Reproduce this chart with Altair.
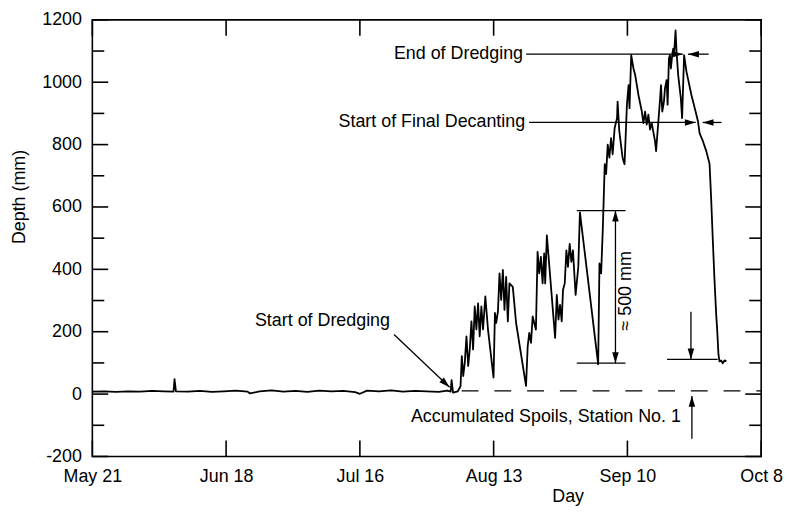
import altair as alt
import pandas as pd

# ---- main series: day offset from May 21, depth in mm ----
depth_day = [
    0, 2.5, 5, 7.5, 10, 12.5, 15, 17.0, 17.2, 17.5, 20, 22.5, 25, 27.5, 30,
    32.5, 33.0, 35, 37.5, 40, 42.5, 45, 47.5, 50, 52.5, 55, 56.0, 57.5, 60,
    62.5, 65, 67.5, 70, 72.5, 74.3, 75.0, 75.2, 75.5, 76.5,
    77.07, 77.34, 77.63, 77.96, 78.31, 78.67, 79.0, 79.35, 79.7, 80.04, 80.39,
    80.74, 81.08, 81.43, 81.78, 82.26, 82.82, 83.98, 84.27, 84.54, 84.9, 85.23,
    85.58, 85.93, 86.27, 86.62, 86.97, 87.31, 88.01, 88.7, 90.78, 91.13, 91.46,
    91.82, 92.17, 92.5, 92.85, 93.2, 93.54, 93.89, 94.25, 94.58, 94.79, 95.14,
    95.5, 96.87, 97.22, 97.57, 97.9, 98.25, 98.52, 98.88, 99.23, 99.56, 99.92,
    100.27, 100.6, 101.16, 101.72, 102.06, 105.88, 106.15, 106.5, 106.84,
    107.05, 107.25, 107.54, 107.88, 108.23, 108.58, 108.91, 109.33, 109.83,
    109.95, 110.3, 110.99, 111.4, 111.9, 112.24, 112.44, 112.8, 113.27, 113.63,
    114.31, 115.02, 115.35, 115.7, 116.04, 116.39, 116.74, 117.09, 117.78,
    118.0, 118.8, 119.03, 119.3, 119.65, 119.86, 120.21, 120.42, 120.69, 120.9,
    121.1, 121.38, 121.59, 121.8, 122.08, 122.29, 122.63, 123.18, 123.45,
    123.87, 124.36, 125.4, 126.44, 126.77, 127.12, 127.81, 128.51, 129.2,
    129.55, 129.88, 130.23, 130.59, 130.79, 131.06, 131.27, 131.62, 131.95,
    132.32, 132.73,
]
depth_mm = [
    8, 9, 7, 9, 8, 10, 9, 8, 48, 9, 8, 10, 7, 9, 11,
    8, 2, 9, 12, 8, 10, 7, 11, 9, 10, 6, 1, 11, 9,
    12, 8, 10, 9, 7, 11, 8, 45, 5, 9,
    25, 122, 58, 101, 185, 90, 143, 233, 143, 281, 207,
    291, 185, 281, 207, 313, 207, 53, 260, 228, 265, 387,
    302, 398, 270, 376, 233, 355, 344, 228, 26, 154, 196,
    164, 249, 228, 207, 456, 387, 440, 355, 451, 355, 509,
    440, 180, 318, 239, 286, 233, 334, 355, 461, 408, 482,
    424, 461, 318, 408, 583, 95, 419, 387, 525,
    631, 737, 705, 800, 758, 821, 769, 853, 885,
    938, 843, 758, 737, 928, 991, 917, 1087, 1044, 1023,
    959, 906, 869, 906, 864, 896, 848, 869, 811,
    779, 938, 991, 906, 938, 980, 1007, 928, 1076, 1087,
    1044, 1087, 1108, 1097, 1166, 1097, 1023, 949, 885,
    1087, 1034, 959, 896, 875, 836, 811, 779, 738,
    620, 493, 366, 254, 207, 127, 105, 108, 99,
    108, 105,
]

# ---- axes ----
x_tick_days = [0, 28, 56, 84, 112, 140]
x_tick_labels = ["May 21", "Jun 18", "Jul 16", "Aug 13", "Sep 10", "Oct 8"]
y_major = [-200, 0, 200, 400, 600, 800, 1000, 1200]
y_minor = [-100, 100, 300, 500, 700, 900, 1100]

# ---- annotations (data units) ----
arrow_x1 = [90.8, 129.0, 91.4, 131.7, 63.15, 109.5, 109.5, 125.3, 125.5]
arrow_y1 = [1090, 1090, 871, 871, 191, 343, 343, 264, -143]
arrow_x2 = [123.6, 124.7, 126.3, 127.75, 74.78, 109.5, 109.5, 125.3, 125.5]
arrow_y2 = [1090, 1090, 871, 871, 22, 588, 99, 111, -6]
arrow_angle = [0, 180, 0, 180, 43, 270, 90, 90, 270]

seg_x1 = [101.4, 101.4, 120.3]
seg_x2 = [111.6, 111.6, 130.9]
seg_y = [588, 99, 111]

dash_x1 = [77.3]
dash_x2 = [140]
dash_y = [10]

note_text = ["End of Dredging", "Start of Final Decanting", "Start of Dredging",
             "Accumulated Spoils, Station No. 1"]
note_x = [90.15, 90.6, 62.3, 123.2]
note_y = [1090, 871, 235, -73]

rot_text = ["\u2248 500 mm"]
rot_x = [111.8]
rot_y = [331]

FONT = "Liberation Sans"
W, H = 674, 440

xs = alt.Scale(domain=[0, 140], nice=False, zero=False)
ys = alt.Scale(domain=[-200, 1200], nice=False, zero=False)

label_expr = "[" + ",".join("'%s'" % s for s in x_tick_labels) + "][round(datum.value/28)]"

XAX = alt.Axis(values=x_tick_days, labelExpr=label_expr, ticks=False, tickSize=0,
               grid=False, domain=False, labelPadding=11, labelFontSize=18,
               labelFont=FONT, labelColor="black", titleFont=FONT, titleFontSize=18,
               titleFontWeight="normal", titleColor="black", titleX=479, titleY=31,
               labelFlush=False)
YAX = alt.Axis(values=y_major, labelExpr="'' + datum.value", ticks=False, tickSize=0,
               grid=False, domain=False,
               labelPadding=11, labelFontSize=18, labelFont=FONT, labelColor="black",
               titleFont=FONT, titleFontSize=18, titleFontWeight="normal",
               titleColor="black", titleX=-64, titleY=178)
XT = "Day"
YT = "Depth (mm)"


def X(f):
    return alt.X(f, scale=xs, title=XT, axis=XAX)


def Y(f):
    return alt.Y(f, scale=ys, title=YT, axis=YAX)


series = pd.DataFrame({"day": depth_day, "depth": depth_mm})
line = alt.Chart(series).mark_line(color="black", strokeWidth=1.8, strokeJoin="round").encode(
    x=X("day:Q"), y=Y("depth:Q"), order="day:Q")

# inward ticks
xt = pd.DataFrame({"d": x_tick_days})
bottom_ticks = alt.Chart(xt).mark_rule(color="black", strokeWidth=1.6).encode(
    x=X("d:Q"), y=alt.value(H), y2=alt.value(H - 16))
top_ticks = alt.Chart(xt).mark_rule(color="black", strokeWidth=1.6).encode(
    x=X("d:Q"), y=alt.value(0), y2=alt.value(16))

ymj = pd.DataFrame({"v": y_major})
ymn = pd.DataFrame({"v": y_minor})
left_major = alt.Chart(ymj).mark_rule(color="black", strokeWidth=1.6).encode(
    y=Y("v:Q"), x=alt.value(0), x2=alt.value(16))
right_major = alt.Chart(ymj).mark_rule(color="black", strokeWidth=1.6).encode(
    y=Y("v:Q"), x=alt.value(W), x2=alt.value(W - 16))
left_minor = alt.Chart(ymn).mark_rule(color="black", strokeWidth=1.6).encode(
    y=Y("v:Q"), x=alt.value(0), x2=alt.value(12))
right_minor = alt.Chart(ymn).mark_rule(color="black", strokeWidth=1.6).encode(
    y=Y("v:Q"), x=alt.value(W), x2=alt.value(W - 12))

# arrows
arr = pd.DataFrame({"x1": arrow_x1, "y1": arrow_y1, "x2": arrow_x2, "y2": arrow_y2,
                    "ang": arrow_angle})
arrow_lines = alt.Chart(arr).mark_rule(color="black", strokeWidth=1.3).encode(
    x=X("x1:Q"), y=Y("y1:Q"), x2="x2:Q", y2="y2:Q")
arrow_heads = alt.Chart(arr).mark_point(
    shape="M0,0L-2,-0.6L-2,0.6Z", filled=True, color="black", opacity=1, size=120,
    strokeWidth=0).encode(
    x=X("x2:Q"), y=Y("y2:Q"), angle=alt.Angle("ang:Q", scale=None))

segs = pd.DataFrame({"x1": seg_x1, "x2": seg_x2, "y": seg_y})
seg_lines = alt.Chart(segs).mark_rule(color="black", strokeWidth=1.3).encode(
    x=X("x1:Q"), x2="x2:Q", y=Y("y:Q"))

dash = pd.DataFrame({"x1": dash_x1, "x2": dash_x2, "y": dash_y})
dash_line = alt.Chart(dash).mark_rule(color="black", strokeWidth=1.3, strokeDash=[17, 16]).encode(
    x=X("x1:Q"), x2="x2:Q", y=Y("y:Q"))

notes = pd.DataFrame({"t": note_text, "x": note_x, "y": note_y})
note_marks = alt.Chart(notes).mark_text(align="right", baseline="middle", font=FONT,
                                        fontSize=18, color="black").encode(
    x=X("x:Q"), y=Y("y:Q"), text="t:N")

rot = pd.DataFrame({"t": rot_text, "x": rot_x, "y": rot_y})
rot_mark = alt.Chart(rot).mark_text(align="center", baseline="middle", angle=270, font=FONT,
                                    fontSize=18, color="black").encode(
    x=X("x:Q"), y=Y("y:Q"), text="t:N")

chart = alt.layer(
    line, dash_line, seg_lines, arrow_lines, arrow_heads, note_marks, rot_mark,
    bottom_ticks, top_ticks, left_major, right_major, left_minor, right_minor,
).properties(
    width=W, height=H,
    autosize=alt.AutoSizeParams(type="none"),
    padding={"left": 85, "top": 10, "right": 22, "bottom": 51},
    background="white",
).configure_view(stroke="black", strokeWidth=1.6)

chart.save("out.html", embed_options={"renderer": "svg", "actions": False})
